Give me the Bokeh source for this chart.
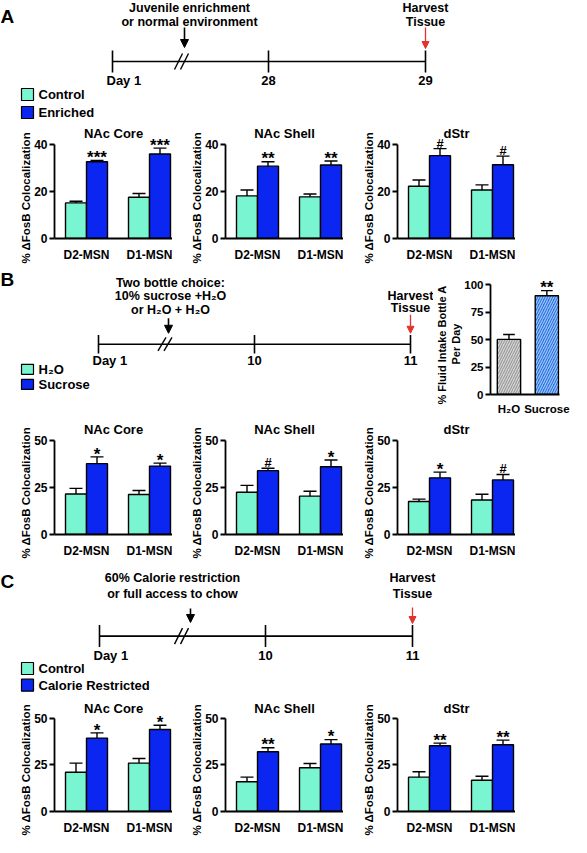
from bokeh.plotting import figure
from bokeh.models import Range1d, FixedTicker, Arrow, NormalHead, ColumnDataSource, Title
from bokeh.layouts import column, row
from bokeh.embed import file_html
from bokeh.resources import INLINE
from bokeh.core.properties import value

FONT = "Liberation Sans"
CTRL = "#7AF5D2"
BLUE = "#0A26F0"
RED = "#E2332E"

# ---------------- data ----------------
cell_types = ["D2-MSN", "D1-MSN"]
regions = ["NAc Core", "NAc Shell", "dStr"]
y_title = "% \u0394FosB Colocalization"
harvest_text = ["Harvest", "Tissue"]

# Panel A: juvenile enrichment
A_legend = ["Control", "Enriched"]
A_days = ["Day 1", "28", "29"]
A_note = ["Juvenile enrichment", "or normal environment"]
A_yticks = [0, 20, 40]
A_ctrl = [[15.2, 17.6], [18.2, 17.8], [22.3, 20.7]]
A_ctrl_sem = [[0.7, 1.6], [2.5, 1.2], [2.7, 2.2]]
A_trt = [[32.8, 36.1], [30.9, 31.4], [35.4, 31.5]]
A_trt_sem = [[0.5, 2.5], [1.9, 1.7], [3.0, 3.7]]
A_sig = [["***", "***"], ["**", "**"], ["#", "#"]]

# Panel B: sucrose
B_legend = ["H\u2082O", "Sucrose"]
B_days = ["Day 1", "10", "11"]
B_note = ["Two bottle choice:", "10% sucrose +H\u2082O", "or H\u2082O + H\u2082O"]
B_yticks = [0, 25, 50]
B_ctrl = [[21.4, 21.2], [22.4, 20.3], [17.5, 18.3]]
B_ctrl_sem = [[3.0, 2.1], [3.6, 2.6], [1.2, 3.0]]
B_trt = [[37.5, 36.2], [33.8, 35.9], [30.0, 28.9]]
B_trt_sem = [[3.6, 1.6], [1.3, 3.5], [3.0, 2.9]]
B_sig = [["*", "*"], ["#", "*"], ["*", "#"]]
intake_groups = ["H\u2082O", "Sucrose"]
intake_mean = [50.2, 90.0]
intake_sem = [4.4, 4.6]
intake_sig = ["", "**"]
intake_yticks = [0, 25, 50, 75, 100]
intake_title = ["% Fluid Intake Bottle A", "Per Day"]

# Panel C: calorie restriction
C_legend = ["Control", "Calorie Restricted"]
C_days = ["Day 1", "10", "11"]
C_note = ["60% Calorie restriction", "or full access to chow"]
C_yticks = [0, 25, 50]
C_ctrl = [[21.0, 25.9], [15.9, 23.4], [18.4, 16.7]]
C_ctrl_sem = [[4.9, 2.5], [2.5, 2.3], [2.9, 2.2]]
C_trt = [[39.3, 43.9], [32.0, 36.1], [35.2, 35.7]]
C_trt_sem = [[2.8, 2.3], [2.1, 2.4], [1.4, 2.5]]
C_sig = [["*", "*"], ["**", "*"], ["**", "**"]]


# ---------------- helpers ----------------
def btext(p, xs, ys, texts, size, align="center", baseline="middle", color="black"):
    p.text(x=xs, y=ys, text=texts, text_font=value(FONT), text_font_style="bold",
           text_font_size=size, text_align=align, text_baseline=baseline,
           text_color=color)


def canvas(w, h):
    p = figure(width=w, height=h, x_range=Range1d(0, w), y_range=Range1d(h, 0),
               x_axis_type=None, y_axis_type=None, output_backend="svg",
               toolbar_location=None, min_border=0)
    p.outline_line_color = None
    p.background_fill_color = "white"
    return p


def timeline(w, h, letter, letter_y, tick_x, days, line_y, break_x, arrow_x,
             arrow_top, arrow_tip, note, note_x, note_ys, harvest_ys, red_top,
             red_tip, legend, legend_ys, trt_color):
    p = canvas(w, h)
    btext(p, [0], [letter_y], [letter], "19px", align="left")
    p.line(x=[tick_x[0], tick_x[-1]], y=[line_y, line_y], line_color="black", line_width=1.6)
    n = len(tick_x)
    p.segment(x0=tick_x, y0=[line_y - 11] * n, x1=tick_x, y1=[line_y + 11] * n,
              line_color="black", line_width=1.6)
    btext(p, [tick_x[0] - 6], [line_y + 19], [days[0]], "13px", align="left")
    btext(p, tick_x[1:], [line_y + 19] * (n - 1), days[1:], "13px")
    # axis break "//"
    p.segment(x0=[break_x - 7, break_x - 1], y0=[line_y + 8] * 2,
              x1=[break_x + 1, break_x + 7], y1=[line_y - 8] * 2,
              line_color="black", line_width=1.4)
    # treatment arrow + note
    p.add_layout(Arrow(end=NormalHead(size=8, fill_color="black", line_color="black"),
                       x_start=arrow_x, y_start=arrow_top, x_end=arrow_x, y_end=arrow_tip,
                       line_color="black", line_width=1.6))
    btext(p, [note_x] * len(note), note_ys, note, "12.5px")
    # harvest
    hx = tick_x[-1]
    btext(p, [hx] * len(harvest_text), harvest_ys, harvest_text, "12.5px")
    p.add_layout(Arrow(end=NormalHead(size=7, fill_color=RED, line_color=RED),
                       x_start=hx, y_start=red_top, x_end=hx, y_end=red_tip,
                       line_color=RED, line_width=1.3))
    # legend
    p.rect(x=[27, 27], y=legend_ys, width=12, height=12, fill_color=[CTRL, trt_color],
           line_color="black", line_width=1.2)
    btext(p, [38, 38], legend_ys, legend, "13px", align="left")
    return p


def side_title(p, text, offset, size):
    p.add_layout(Title(text=text, align="left", offset=offset, standoff=0,
                       text_font=FONT, text_font_style="bold", text_font_size=size,
                       text_color="black"), "left")


def style_axes(p, yticks, tick_size="12px"):
    p.outline_line_color = None
    p.grid.visible = False
    for ax in (p.xaxis[0], p.yaxis[0]):
        ax.axis_line_width = 1.8
        ax.major_tick_line_width = 1.8
        ax.minor_tick_line_color = None
        ax.major_label_text_font = FONT
        ax.major_label_text_font_style = "bold"
        ax.major_label_text_font_size = tick_size
        ax.major_label_text_color = "black"
    xa = p.xaxis[0]
    xa.major_tick_line_color = None
    xa.major_label_standoff = 3
    ya = p.yaxis[0]
    ya.ticker = FixedTicker(ticks=yticks)
    ya.bounds = (yticks[0], yticks[-1])
    ya.major_tick_out = 5
    ya.major_tick_in = 0
    ya.major_label_standoff = 2


def sig_layer(p, xs, tops, marks, ppu):
    ys, sizes = [], []
    for t, m in zip(tops, marks):
        if m.startswith("*"):
            ys.append(t + 3.0 / ppu)
            sizes.append("17px")
        else:
            ys.append(t + 6.0 / ppu)
            sizes.append("13px")
    src = ColumnDataSource(dict(x=xs, y=ys, text=marks, size=sizes))
    p.text(x="x", y="y", text="text", text_font_size="size", source=src,
           text_font=value(FONT), text_font_style="bold", text_align="center",
           text_baseline="alphabetic", text_color="black")


def errbars(p, xs, means, sems, cap):
    tops = [m + s for m, s in zip(means, sems)]
    p.segment(x0=xs, y0=means, x1=xs, y1=tops, line_color="black", line_width=1.4)
    p.segment(x0=[x - cap for x in xs], y0=tops, x1=[x + cap for x in xs], y1=tops,
              line_color="black", line_width=1.4)
    return tops


def bar_chart(title, ctrl, ctrl_sem, trt, trt_sem, sig, yticks, trt_color,
              row_h, top_px, zero_px, ppu, title_y, label_offset, left):
    frame_w, unit, first = 118, 63.0, 32
    xr = Range1d(-first / unit, (frame_w - first) / unit)
    yr = Range1d(0, (zero_px - top_px) / ppu)
    p = figure(width=left + frame_w, height=row_h, x_range=xr, y_range=yr,
               output_backend="svg", toolbar_location=None,
               min_border_left=left, min_border_right=0, min_border_top=top_px,
               min_border_bottom=row_h - zero_px)
    idx = list(range(len(cell_types)))
    bw = 21 / unit
    xc = [i - bw / 2 for i in idx]
    xt = [i + bw / 2 for i in idx]
    p.vbar(x=xc, top=ctrl, width=bw, fill_color=CTRL, line_color="black", line_width=1.4)
    p.vbar(x=xt, top=trt, width=bw, fill_color=trt_color, line_color="black", line_width=1.4)
    errbars(p, xc, ctrl, ctrl_sem, 6.5 / unit)
    tops = errbars(p, xt, trt, trt_sem, 6.5 / unit)
    sig_layer(p, xt, tops, sig, ppu)
    btext(p, [(xr.start + xr.end) / 2], [(zero_px - title_y) / ppu], [title], "13px")
    style_axes(p, yticks)
    p.xaxis[0].ticker = FixedTicker(ticks=idx)
    p.xaxis[0].major_label_overrides = {i: c for i, c in zip(idx, cell_types)}
    side_title(p, y_title, label_offset, "11.5px")
    return p


def chart_row(ctrl, ctrl_sem, trt, trt_sem, sig, yticks, row_h, top_px, zero_px, ppu,
              title_y, label_offset):
    lefts = [54, 53, 54]
    figs = []
    for k, reg in enumerate(regions):
        figs.append(bar_chart(reg, ctrl[k], ctrl_sem[k], trt[k], trt_sem[k], sig[k],
                              yticks, BLUE, row_h, top_px, zero_px, ppu, title_y,
                              label_offset, lefts[k]))
    return row(*figs)


# ---------------- panel A ----------------
tlA = timeline(571, 120, "A", 16, [112, 268, 425], A_days, 61, 181, 184, 27, 47,
               A_note, 189, [7, 21], [7, 21], 27, 48, A_legend, [94, 112], BLUE)
rowA = chart_row(A_ctrl, A_ctrl_sem, A_trt, A_trt_sem, A_sig, A_yticks,
                 144, 4, 126, 2.505, 13.6, -25)

# ---------------- panel B ----------------
tlB_w = 433
tlB = timeline(tlB_w, 155, "B", 18, [98, 254, 410], B_days, 95, 164.5, 168, 64, 82,
               B_note, 170, [22, 38, 54.5], [38, 52], 60, 82, B_legend, [125, 143], BLUE)

# inset: fluid intake
in_left, in_fw, in_h, in_zero, in_ppu = 55, 71, 155, 130, 1.098
in_right = 571 - tlB_w - in_left - in_fw
in_unit, in_first = 39.0, 19
ixr = Range1d(-in_first / in_unit, (in_fw - in_first) / in_unit)
iyr = Range1d(0, in_zero / in_ppu)
inset = figure(width=in_left + in_fw + in_right, height=in_h, x_range=ixr, y_range=iyr,
               output_backend="svg", toolbar_location=None, min_border_left=in_left,
               min_border_right=in_right, min_border_top=0,
               min_border_bottom=in_h - in_zero)
iidx = list(range(len(intake_groups)))
ibw = 24 / in_unit
inset.vbar(x=iidx, top=intake_mean, width=ibw, fill_color=["#D6D6D6", "#2C6FE2"],
           line_color="black", line_width=1.4, hatch_pattern="/",
           hatch_color=["#9C9C9C", "#9CC8FA"], hatch_scale=5, hatch_weight=1.2)
itops = errbars(inset, iidx, intake_mean, intake_sem, 6 / in_unit)
sig_layer(inset, iidx, itops, intake_sig, in_ppu)
style_axes(inset, intake_yticks, tick_size="11.5px")
inset.xaxis[0].ticker = FixedTicker(ticks=iidx)
inset.xaxis[0].major_label_overrides = {i: g for i, g in zip(iidx, intake_groups)}
inset.xaxis[0].major_label_standoff = 2
side_title(inset, intake_title[1], in_zero - 100, "11px")
side_title(inset, intake_title[0], in_zero - 140, "11px")

rowB = chart_row(B_ctrl, B_ctrl_sem, B_trt, B_trt_sem, B_sig, B_yticks,
                 141, 3, 123, 2.024, 10.3, -24)

# ---------------- panel C ----------------
tlC = timeline(571, 138, "C", 20.6, [99, 265, 412], C_days, 75.6, 181, 190, 48, 62,
               C_note, 172, [17.6, 33.3], [17.6, 33.3], 47, 63, C_legend, [108, 124.7], BLUE)
rowC = chart_row(C_ctrl, C_ctrl_sem, C_trt, C_trt_sem, C_sig, C_yticks,
                 139, 3, 121, 2.004, 10.3, -24)

layout = column(tlA, rowA, row(tlB, inset), rowB, tlC, rowC)

with open("out.html", "w") as f:
    f.write(file_html(layout, INLINE))
